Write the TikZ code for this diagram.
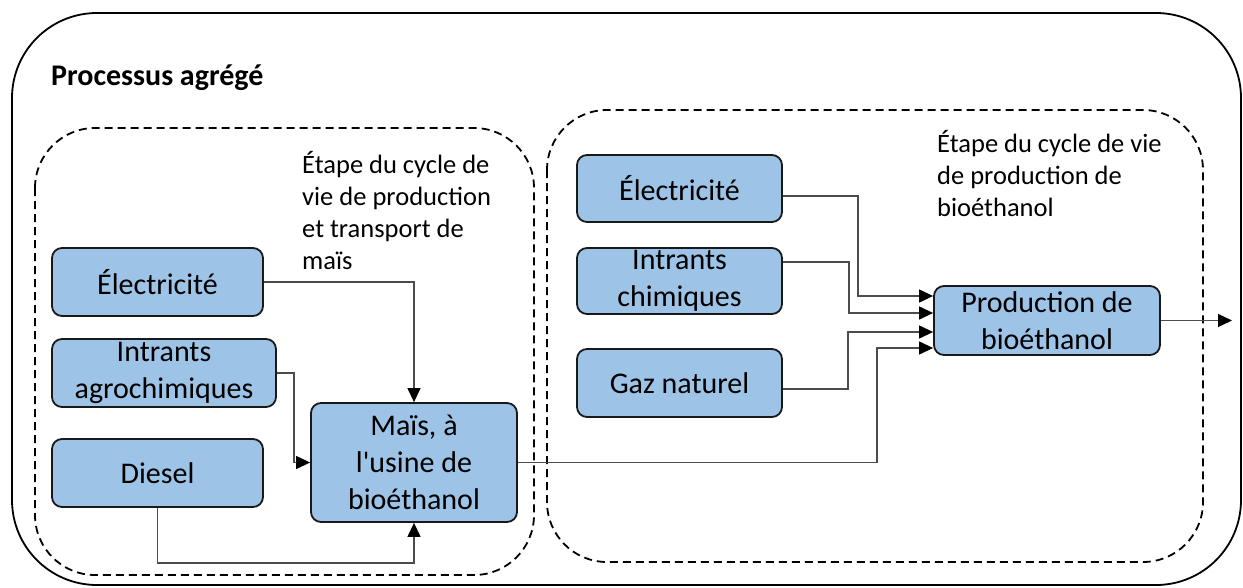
\documentclass[tikz,border=0pt]{standalone}
\usepackage{fontspec}
\setmainfont{Carlito}
\usepackage{tikz}
\usetikzlibrary{arrows.meta}
\definecolor{boxblue}{HTML}{9DC3E6}

\begin{document}
\begin{tikzpicture}[
    x=1pt, y=-1pt,
    box/.style={draw=black!90, line width=1.8pt, fill=boxblue, rounded corners=10pt, align=center, inner sep=0pt, font=\fontsize{30}{37}\selectfont},
    stage/.style={draw, dash pattern=on 8pt off 5pt, line width=1.8pt, rounded corners=60pt},
    conn/.style={draw=black!70, line width=1.2pt, -{Triangle[length=14pt,width=13pt,color=black]}},
    note/.style={align=left, inner sep=0pt, font=\fontsize{26.5}{32}\selectfont}
]
\useasboundingbox (0,0) rectangle (1243,587);

\draw[line width=1.8pt, rounded corners=85pt] (12,13) rectangle (1241,585);
\node[anchor=base west, inner sep=0pt, font=\fontsize{30}{36}\selectfont\bfseries] (title) at (51,85) {Processus agrégé};

\draw[stage] (35,128) rectangle (534,575);
    \draw[stage] (547,110) rectangle (1203,562);

\node[note, anchor=west] (n1) at (302,211) {Étape du cycle de\\vie de production\\et transport de\\maïs};
    \node[note, anchor=west] (n2) at (937,174) {Étape du cycle de vie\\de production de\\bioéthanol};

\node[box, minimum width=211pt, minimum height=68pt] (e1) at (157.5,282) {Électricité};
    \node[box, minimum width=224pt, minimum height=68pt] (a1) at (164,373) {Intrants\\agrochimiques};
    \node[box, minimum width=211pt, minimum height=68pt] (d1) at (157.5,473) {Diesel};
    \node[box, minimum width=206pt, minimum height=119pt] (m1) at (414,462.5) {Maïs, à\\l\textquotesingle usine de\\bioéthanol};

\node[box, minimum width=205pt, minimum height=67pt] (e2) at (679.5,188.5) {Électricité};
    \node[box, minimum width=205pt, minimum height=66pt] (c2) at (679.5,281) {Intrants\\chimiques};
    \node[box, minimum width=205pt, minimum height=68pt] (g2) at (679.5,383) {Gaz naturel};
    \node[box, minimum width=226pt, minimum height=69pt] (p2) at (1047,320.5) {Production de\\bioéthanol};

\coordinate (out) at (1232,320.5);

\draw[conn] (e1.east) -| (m1.north);
    \draw[conn] (a1.east) -- ++(17,0) |- (m1.west);
    \draw[conn] (d1.south) -- ++(0,55) -| (m1.south);
    \draw[conn] (m1.east) -- ++(359,0) |- ([yshift=-27.5pt]p2.west);

\draw[conn] ([yshift=-7.5pt]e2.east) -- ++(75,0) |- ([yshift=24.5pt]p2.west);
    \draw[conn] ([yshift=19pt]c2.east) -- ++(66,0) |- ([yshift=7.5pt]p2.west);
    \draw[conn] ([yshift=-6pt]g2.east) -- ++(65,0) |- ([yshift=-11.5pt]p2.west);
    \draw[conn] (p2.east) -- (out);

\end{tikzpicture}
\end{document}
